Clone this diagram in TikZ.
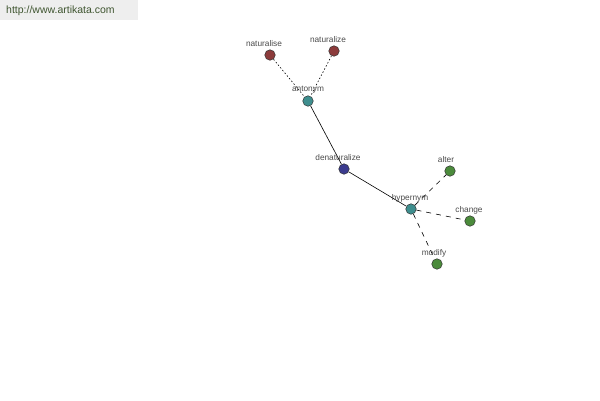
\documentclass[tikz,border=0pt]{standalone}
\usepackage{fontspec}
\setmainfont{Liberation Sans}
\definecolor{cred}{HTML}{8C3B3B}
\definecolor{cteal}{HTML}{3E8E8E}
\definecolor{cblue}{HTML}{3B3B8E}
\definecolor{cgreen}{HTML}{4B8B3B}
\definecolor{hdrbg}{HTML}{EEEEEE}
\definecolor{hdrtx}{HTML}{3F5530}
\tikzset{
  vert/.style={circle,draw=black!80,line width=0.5pt,minimum size=10.5pt,inner sep=0pt},
  lbl/.style={font=\fontsize{8.3}{9}\selectfont,text=black!70,inner sep=0pt},
  solidedge/.style={line width=0.6pt,black},
  dotedge/.style={line width=0.6pt,black,dash pattern=on 1.5pt off 2pt},
  dashedge/.style={line width=0.6pt,black,dash pattern=on 5pt off 5pt},
}
\begin{document}
\begin{tikzpicture}[x=1pt,y=-1pt]
\useasboundingbox (0,0) rectangle (600,400);
\fill[white] (0,0) rectangle (600,400);
\fill[hdrbg] (0,0) rectangle (138,20);
\node[font=\fontsize{10.5}{12}\selectfont,text=hdrtx,anchor=west,inner sep=0pt] (hdr) at (6,11) {http://www.artikata.com};
% vertices
\node[vert,fill=cred] (naturalise) at (270,55) {};
\node[vert,fill=cred] (naturalize) at (334,51) {};
\node[vert,fill=cteal] (antonym) at (308,101) {};
\node[vert,fill=cblue] (denaturalize) at (344,169) {};
\node[vert,fill=cteal] (hypernym) at (411,209) {};
\node[vert,fill=cgreen] (alter) at (450,171) {};
\node[vert,fill=cgreen] (change) at (470,221) {};
\node[vert,fill=cgreen] (modify) at (437,264) {};
% edges
\draw[dotedge] (naturalise) -- (antonym);
\draw[dotedge] (naturalize) -- (antonym);
\draw[solidedge] (antonym) -- (denaturalize);
\draw[solidedge] (denaturalize) -- (hypernym);
\draw[dashedge] (hypernym) -- (alter);
\draw[dashedge] (hypernym) -- (change);
\draw[dashedge] (hypernym) -- (modify);
% labels
\node[lbl] (l1) at (264,44) {naturalise};
\node[lbl] (l2) at (328,40) {naturalize};
\node[lbl] (l3) at (308,90) {antonym};
\node[lbl] (l4) at (338,158) {denaturalize};
\node[lbl] (l5) at (410,198) {hypernym};
\node[lbl] (l6) at (446,160) {alter};
\node[lbl] (l7) at (469,210) {change};
\node[lbl] (l8) at (434,253) {modify};
\end{tikzpicture}
\end{document}
